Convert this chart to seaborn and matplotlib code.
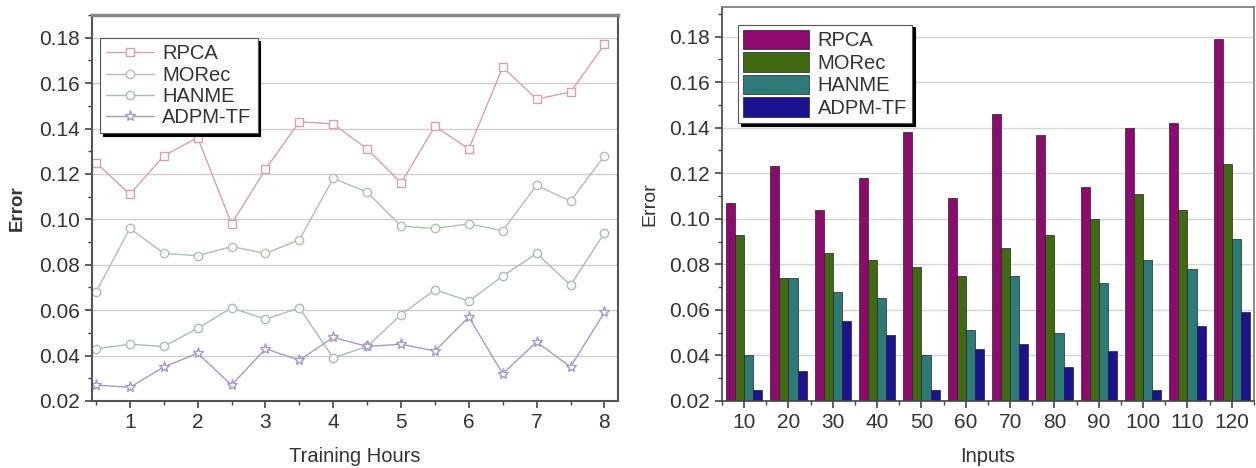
import numpy as np
import pandas as pd
import matplotlib
matplotlib.use("Agg")
import matplotlib.pyplot as plt
from matplotlib.ticker import MultipleLocator, FixedLocator
import seaborn as sns

# ---------------- data ----------------
methods = ["RPCA", "MORec", "HANME", "ADPM-TF"]

hours = [0.5, 1, 1.5, 2, 2.5, 3, 3.5, 4, 4.5, 5, 5.5, 6, 6.5, 7, 7.5, 8]
rpca_line = [0.125, 0.111, 0.128, 0.136, 0.098, 0.122, 0.143, 0.142, 0.131, 0.116, 0.141, 0.131, 0.167, 0.153, 0.156, 0.177]
morec_line = [0.068, 0.096, 0.085, 0.084, 0.088, 0.085, 0.091, 0.118, 0.112, 0.097, 0.096, 0.098, 0.095, 0.115, 0.108, 0.128]
hanme_line = [0.043, 0.045, 0.044, 0.052, 0.061, 0.056, 0.061, 0.039, 0.044, 0.058, 0.069, 0.064, 0.075, 0.085, 0.071, 0.094]
adpm_line = [0.027, 0.026, 0.035, 0.041, 0.027, 0.043, 0.038, 0.048, 0.044, 0.045, 0.042, 0.057, 0.032, 0.046, 0.035, 0.059]

inputs = ["10", "20", "30", "40", "50", "60", "70", "80", "90", "100", "110", "120"]
rpca_bar = [0.107, 0.123, 0.104, 0.118, 0.138, 0.109, 0.146, 0.137, 0.114, 0.140, 0.142, 0.179]
morec_bar = [0.093, 0.074, 0.085, 0.082, 0.079, 0.075, 0.087, 0.093, 0.100, 0.111, 0.104, 0.124]
hanme_bar = [0.040, 0.074, 0.068, 0.065, 0.040, 0.051, 0.075, 0.050, 0.072, 0.082, 0.078, 0.091]
adpm_bar = [0.025, 0.033, 0.055, 0.049, 0.025, 0.043, 0.045, 0.035, 0.042, 0.025, 0.053, 0.059]

line_colors = ["#d9a0aa", "#b0c0ae", "#a8bcc0", "#a898c8"]
line_markers = ["s", "o", "o", "*"]
bar_colors = ["#8e0a6e", "#3f6a12", "#2e7a78", "#1c1290"]

yticks = [0.02, 0.04, 0.06, 0.08, 0.10, 0.12, 0.14, 0.16, 0.18]
ytick_labels = ["0.02", "0.04", "0.06", "0.08", "0.10", "0.12", "0.14", "0.16", "0.18"]

# ---------------- style ----------------
sns.set_style("ticks")
plt.rcParams["font.family"] = ["Liberation Sans", "DejaVu Sans"]
plt.rcParams["xtick.direction"] = "out"
plt.rcParams["ytick.direction"] = "out"

fig = plt.figure(figsize=(12.56, 4.68), dpi=100)
ax1 = fig.add_axes([0.0732, 0.1432, 0.4188, 0.8248])
ax2 = fig.add_axes([0.5748, 0.1432, 0.4236, 0.8419])

# ---------------- left: lines ----------------
line_series = [rpca_line, morec_line, hanme_line, adpm_line]
for name, vals, c, m in zip(methods, line_series, line_colors, line_markers):
    sns.lineplot(x=hours, y=vals, ax=ax1, color=c, marker=m,
                 markersize=6 if m != "*" else 8,
                 markerfacecolor="white", markeredgecolor=c, markeredgewidth=1.0,
                 linewidth=1.0, label=name)

ax1.set_xlim(0.44, 8.2)
ax1.set_ylim(0.02, 0.19)
ax1.xaxis.set_major_locator(FixedLocator([1, 2, 3, 4, 5, 6, 7, 8]))
ax1.xaxis.set_minor_locator(FixedLocator([0.5, 1.5, 2.5, 3.5, 4.5, 5.5, 6.5, 7.5]))
ax1.yaxis.set_major_locator(FixedLocator(yticks))
ax1.yaxis.set_minor_locator(MultipleLocator(0.01))
ax1.set_yticklabels(ytick_labels)
ax1.grid(axis="y", which="major", color="#cfcfcf", linewidth=1.0)
ax1.set_axisbelow(True)
ax1.set_xlabel("Training Hours", fontsize=14.5, color="#333333", labelpad=11)
ax1.set_ylabel("Error", fontsize=13.5, fontweight="bold", color="#333333", labelpad=10)
ax1.tick_params(axis="both", which="major", labelsize=15, length=5, width=1.2, colors="#444444", labelcolor="#333333")
ax1.tick_params(axis="both", which="minor", length=3, width=1.0, colors="#444444")
for s in ax1.spines.values():
    s.set_color("#555555")
    s.set_linewidth(1.5)
ax1.spines["top"].set_color("#888888")
ax1.spines["top"].set_linewidth(2.5)
leg1 = ax1.legend(loc="upper left", bbox_to_anchor=(0.015, 0.94), fontsize=14.5,
                  frameon=True, fancybox=False, shadow={"color": "black", "alpha": 1.0},
                  edgecolor="#555555", handlelength=2.4, handletextpad=0.4,
                  borderpad=0.3, labelspacing=0.12, borderaxespad=0.0)
leg1.get_frame().set_linewidth(0.8)
for t in leg1.get_texts():
    t.set_color("#333333")

# ---------------- right: bars ----------------
bar_series = [rpca_bar, morec_bar, hanme_bar, adpm_bar]
rows = []
for name, vals in zip(methods, bar_series):
    for inp, v in zip(inputs, vals):
        rows.append({"Inputs": inp, "Error": v, "Method": name})
df_bar = pd.DataFrame(rows)

sns.barplot(data=df_bar, x="Inputs", y="Error", hue="Method", order=inputs,
            hue_order=methods, palette=bar_colors, ax=ax2, width=0.82,
            edgecolor="#222222", linewidth=0.5, saturation=1.0)

ax2.set_xlim(-0.5, 11.5)
ax2.set_ylim(0.02, 0.193)
ax2.yaxis.set_major_locator(FixedLocator(yticks))
ax2.yaxis.set_minor_locator(MultipleLocator(0.01))
ax2.set_yticklabels(ytick_labels)
ax2.xaxis.set_minor_locator(FixedLocator([i + 0.5 for i in range(-1, 12)]))
ax2.grid(axis="y", which="major", color="#d6d6d6", linewidth=1.0)
ax2.set_axisbelow(True)
ax2.set_xlabel("Inputs", fontsize=14.5, color="#333333", labelpad=11)
ax2.set_ylabel("Error", fontsize=14, color="#333333", labelpad=8)
ax2.tick_params(axis="both", which="major", labelsize=15, length=5, width=1.2, colors="#444444", labelcolor="#333333")
ax2.tick_params(axis="both", which="minor", length=3, width=1.0, colors="#444444")
for s in ax2.spines.values():
    s.set_color("#777777")
    s.set_linewidth(1.2)
ax2.spines["left"].set_color("#444444")
ax2.spines["bottom"].set_color("#444444")
leg2 = ax2.legend(loc="upper left", bbox_to_anchor=(0.03, 0.955), fontsize=14.5,
                  frameon=True, fancybox=False, shadow={"color": "black", "alpha": 1.0},
                  edgecolor="#555555", handlelength=3.3, handleheight=1.1,
                  handletextpad=0.4, borderpad=0.25, labelspacing=0.1, borderaxespad=0.0,
                  title=None)
leg2.get_frame().set_linewidth(0.8)
for t in leg2.get_texts():
    t.set_color("#333333")

fig.savefig("out.png", dpi=100)
